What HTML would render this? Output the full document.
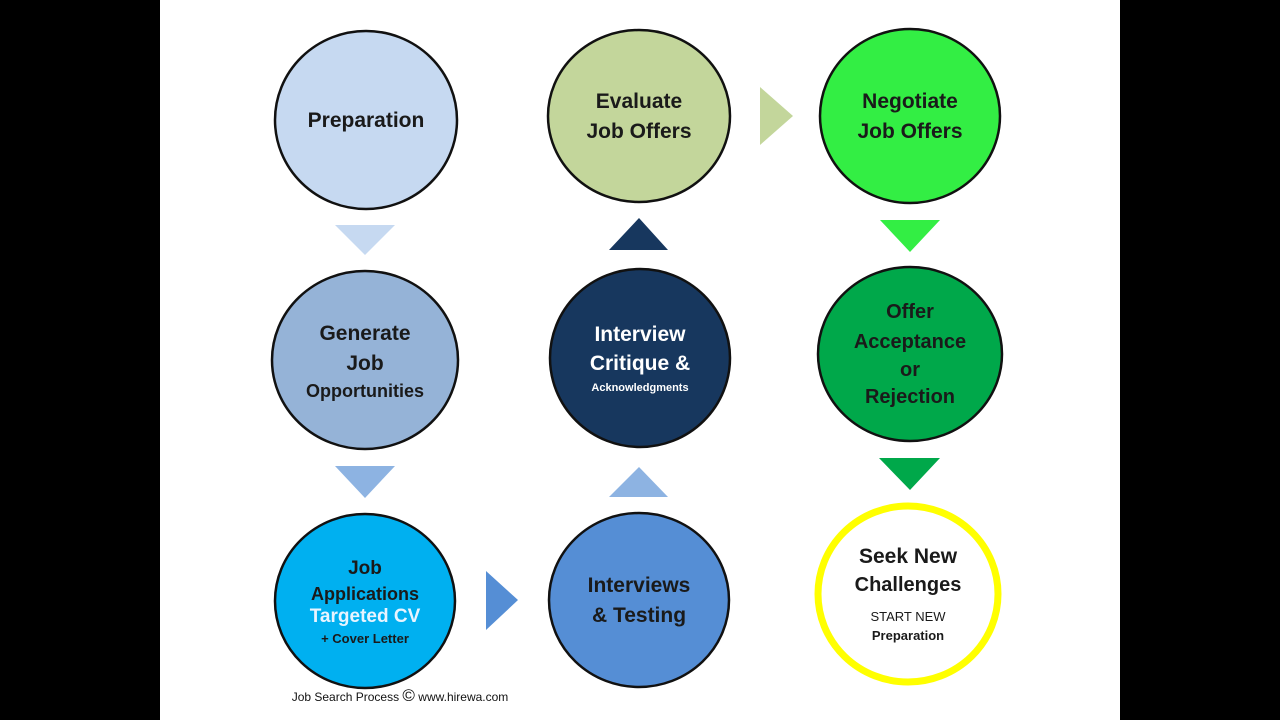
<!DOCTYPE html>
<html><head><meta charset="utf-8"><style>
html,body{margin:0;padding:0;background:#000;}
svg{display:block}
text{font-family:"Liberation Sans",sans-serif;font-weight:bold;text-anchor:middle;}
</style></head><body>
<svg width="1280" height="720" viewBox="0 0 1280 720" xmlns="http://www.w3.org/2000/svg">
<rect x="0" y="0" width="1280" height="720" fill="#000"/>
<rect x="160" y="0" width="960" height="720" fill="#fff"/>
<g stroke="#111" stroke-width="2.5">
<ellipse cx="366" cy="120" rx="91" ry="89" fill="#c6d9f1"/>
<ellipse cx="639" cy="116" rx="91" ry="86" fill="#c3d69b"/>
<ellipse cx="910" cy="116" rx="90" ry="87" fill="#33ee44"/>
<ellipse cx="365" cy="360" rx="93" ry="89" fill="#95b3d7"/>
<ellipse cx="640" cy="358" rx="90" ry="89" fill="#17375e"/>
<ellipse cx="910" cy="354" rx="92" ry="87" fill="#00a84a"/>
<ellipse cx="365" cy="601" rx="90" ry="87" fill="#00b0f0"/>
<ellipse cx="639" cy="600" rx="90" ry="87" fill="#558ed5"/>
</g>
<ellipse cx="908" cy="594" rx="90" ry="88" fill="#fff" stroke="#ffff00" stroke-width="7"/>
<polygon points="335,225 395,225 365,255" fill="#c6d9f1"/>
<polygon points="335,466 395,466 365,498" fill="#8db3e2"/>
<polygon points="486,571 518,600 486,630" fill="#558ed5"/>
<polygon points="609,497 668,497 639,467" fill="#8db3e2"/>
<polygon points="609,250 668,250 639,218" fill="#17375e"/>
<polygon points="760,87 793,116 760,145" fill="#c3d69b"/>
<polygon points="880,220 940,220 910,252" fill="#33ee44"/>
<polygon points="879,458 940,458 910,490" fill="#00a84a"/>
<g fill="#1a1a1a">
<text x="366" y="127" font-size="21">Preparation</text>
<text x="639" y="108" font-size="21">Evaluate</text>
<text x="639" y="138" font-size="21">Job Offers</text>
<text x="910" y="108" font-size="21">Negotiate</text>
<text x="910" y="138" font-size="21">Job Offers</text>
<text x="365" y="340" font-size="21">Generate</text>
<text x="365" y="370" font-size="21">Job</text>
<text x="365" y="397" font-size="18">Opportunities</text>
<text x="910" y="318" font-size="20">Offer</text>
<text x="910" y="348" font-size="20">Acceptance</text>
<text x="910" y="376" font-size="20">or</text>
<text x="910" y="403" font-size="20">Rejection</text>
<text x="365" y="574" font-size="19">Job</text>
<text x="365" y="600" font-size="18">Applications</text>
<text x="365" y="643" font-size="13">+ Cover Letter</text>
<text x="639" y="592" font-size="21">Interviews</text>
<text x="639" y="622" font-size="21">&amp; Testing</text>
<text x="908" y="563" font-size="21">Seek New</text>
<text x="908" y="591" font-size="20">Challenges</text>
<text x="908" y="621" font-size="13" font-weight="normal" style="font-weight:normal">START NEW</text>
<text x="908" y="640" font-size="13">Preparation</text>
</g>
<text x="365" y="622" font-size="19" fill="#e8f4ff">Targeted CV</text>
<g fill="#fff">
<text x="640" y="341" font-size="21">Interview</text>
<text x="640" y="370" font-size="21">Critique &amp;</text>
<text x="640" y="391" font-size="11">Acknowledgments</text>
</g>
<text x="400" y="701" font-size="12" style="font-weight:normal" fill="#111">Job Search Process <tspan font-size="17">©</tspan> www.hirewa.com</text>
</svg>
</body></html>
